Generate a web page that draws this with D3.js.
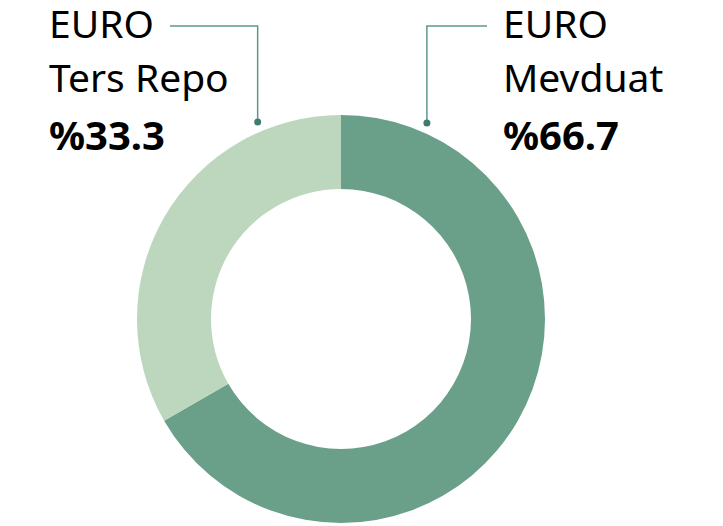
<!DOCTYPE html>
<html>
<head>
<meta charset="utf-8">
<script src="https://cdn.jsdelivr.net/npm/d3@7"></script>
<style>
  body { margin: 0; background: #fff; }
  text { font-family: "Noto Sans", sans-serif; }
</style>
</head>
<body>
<div id="chart-area"></div>
<script>
// Data
const categories = ["EURO Mevduat", "EURO Ters Repo"]
const lines = [["EURO", "Mevduat"], ["EURO", "Ters Repo"]]
const values = [66.7, 33.3]
const colors = ["#6a9f89", "#bcd7bd"]

// Config
const width = 723, height = 526
const cx = 341, cy = 319
const outerR = 204, innerR = 130

const svg = d3.select("#chart-area")
  .append("svg")
    .attr("width", width)
    .attr("height", height)

const g = svg.append("g")
  .attr("transform", "translate(" + cx + ", " + cy + ")")

const pie = d3.pie().sort(null).value(d => d)
const arc = d3.arc().innerRadius(innerR).outerRadius(outerR)
const arcs = pie(values)

g.selectAll("path.slice")
  .data(arcs)
  .enter().append("path")
    .attr("class", "slice")
    .attr("fill", (d, i) => colors[i])
    .attr("d", arc)

// Leader lines and labels
const lineColor = "#5f968f", dotColor = "#3f7a73"
const labelY = 26

// dot sits just outside the slice, at a fixed angle in from 12 o'clock
const dotAngle = [0.413, -0.40]
const labelX = [503, 49]
const lineEnd = [487, 170]

arcs.forEach((d, i) => {
  const a = dotAngle[i]
  const px = cx + Math.sin(a) * (outerR + 10)
  const py = cy - Math.cos(a) * (outerR + 10)

  svg.append("path")
    .attr("fill", "none")
    .attr("stroke", lineColor)
    .attr("stroke-width", 1.5)
    .attr("d", "M" + px + "," + py + "V" + labelY + "H" + lineEnd[i])

  svg.append("circle")
    .attr("cx", px).attr("cy", py).attr("r", 3.5)
    .attr("fill", dotColor)

  const t = svg.append("text")
    .attr("fill", "#000")
    .style("font-size", "39px")

  lines[i].forEach((s, k) => {
    t.append("tspan")
      .attr("x", labelX[i])
      .attr("y", 38 + k * 54)
      .text(s)
  })

  svg.append("text")
    .attr("x", labelX[i])
    .attr("y", 150)
    .attr("fill", "#000")
    .style("font-size", "40px")
    .style("font-weight", "bold")
    .text("%" + d3.format(".1f")(d.data))
})
</script>
</body>
</html>
